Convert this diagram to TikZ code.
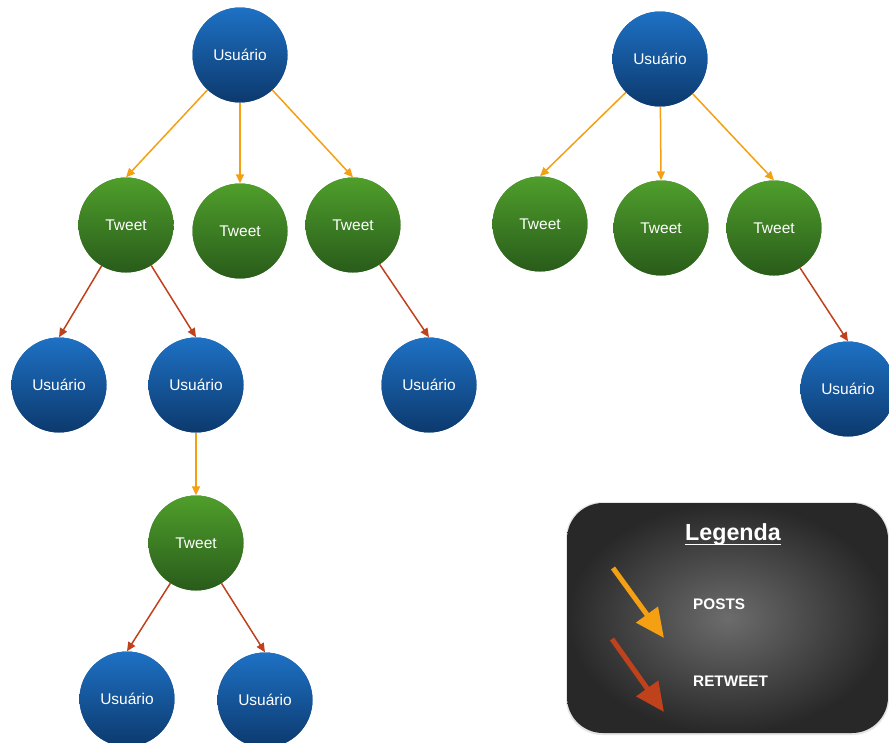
\documentclass[tikz,border=0pt]{standalone}
\usepackage{fontspec}
\setmainfont{Liberation Sans}
\usetikzlibrary{arrows.meta}
\definecolor{ublueT}{RGB}{30,114,198}
\definecolor{ublueB}{RGB}{12,56,108}
\definecolor{tgreenT}{RGB}{80,160,44}
\definecolor{tgreenB}{RGB}{40,90,26}
\definecolor{postc}{RGB}{245,160,18}
\definecolor{rtc}{RGB}{192,66,28}
\definecolor{legin}{RGB}{108,108,108}
\definecolor{legout}{RGB}{40,40,40}
\tikzset{
  circnode/.style={circle, minimum size=95pt, inner sep=0pt, text=white, font=\fontsize{15.5}{18}\selectfont},
  usr/.style={circnode, fill=ublueT!50!ublueB, path picture={\shade[top color=ublueT, bottom color=ublueB] ([shift={(-2pt,2pt)}]path picture bounding box.north west) rectangle ([shift={(2pt,-2pt)}]path picture bounding box.south east);}},
  twt/.style={circnode, fill=tgreenT!50!tgreenB, path picture={\shade[top color=tgreenT, bottom color=tgreenB] ([shift={(-2pt,2pt)}]path picture bounding box.north west) rectangle ([shift={(2pt,-2pt)}]path picture bounding box.south east);}},
  post/.style={draw=postc, line width=1.5pt, -{Triangle[length=9pt,width=8pt]}},
  rtw/.style={draw=rtc, line width=1.5pt, -{Triangle[length=9pt,width=8pt]}},
  legpost/.style={draw=postc, line width=5pt, -{Triangle[length=29pt,width=26pt]}},
  legrt/.style={draw=rtc, line width=5pt, -{Triangle[length=29pt,width=26pt]}},
  legtext/.style={text=white, font=\bfseries\fontsize{15.3}{18}\selectfont, anchor=west, inner sep=0pt}
}
\begin{document}
\begin{tikzpicture}[x=1pt,y=-1pt]
\useasboundingbox (0,0) rectangle (889,742);
\clip (0,0) rectangle (889,742);
\fill[white] (0,0) rectangle (889,742);
% left tree
\node[usr] (U1) at (240,55) {Usuário};
\node[twt] (T1) at (126,225) {Tweet};
\node[twt] (T2) at (240,231) {Tweet};
\node[twt] (T3) at (353,225) {Tweet};
\node[usr] (U2) at (59,385) {Usuário};
\node[usr] (U3) at (196,385) {Usuário};
\node[usr] (U4) at (429,385) {Usuário};
\node[twt] (T4) at (196,543) {Tweet};
\node[usr] (U5) at (127,699) {Usuário};
\node[usr] (U6) at (265,700) {Usuário};
% right tree
\node[usr] (U7) at (660,59) {Usuário};
\node[twt] (T5) at (540,224) {Tweet};
\node[twt] (T6) at (661,228) {Tweet};
\node[twt] (T7) at (774,228) {Tweet};
\node[usr] (U8) at (848,389) {Usuário};
% connectors
\draw[post] (U1) -- (T1.north);
\draw[post] (U1) -- (T2.north);
\draw[post] (U1) -- (T3.north);
\draw[rtw] (T1) -- (U2.north);
\draw[rtw] (T1) -- (U3.north);
\draw[rtw] (T3) -- (U4.north);
\draw[post] (U3) -- (T4.north);
\draw[rtw] (T4) -- (U5.north);
\draw[rtw] (T4) -- (U6.north);
\draw[post] (U7) -- (T5.north);
\draw[post] (U7) -- (T6.north);
\draw[post] (U7) -- (T7.north);
\draw[rtw] (T7) -- (U8.north);
% legend
\fill[black!10, rounded corners=36pt] (566,502) rectangle (889,735);
\shade[inner color=legin, outer color=legout, rounded corners=36pt] (567,503) rectangle (888,733);
\node[text=white, font=\bfseries\fontsize{23.3}{26}\selectfont, inner sep=0pt, anchor=base] (LT) at (733,540) {Legenda};
\draw[white, line width=1.4pt] ([yshift=-4.5pt]LT.base west) -- ([yshift=-4.5pt]LT.base east);
\coordinate (PA) at (613,568);
\coordinate (PB) at (664,638);
\coordinate (RA) at (612,639);
\coordinate (RB) at (664,712);
\draw[legpost] (PA) -- (PB);
\draw[legrt] (RA) -- (RB);
\node[legtext] (LP) at (693,604) {POSTS};
\node[legtext] (LR) at (693,681) {RETWEET};
\end{tikzpicture}
\end{document}
